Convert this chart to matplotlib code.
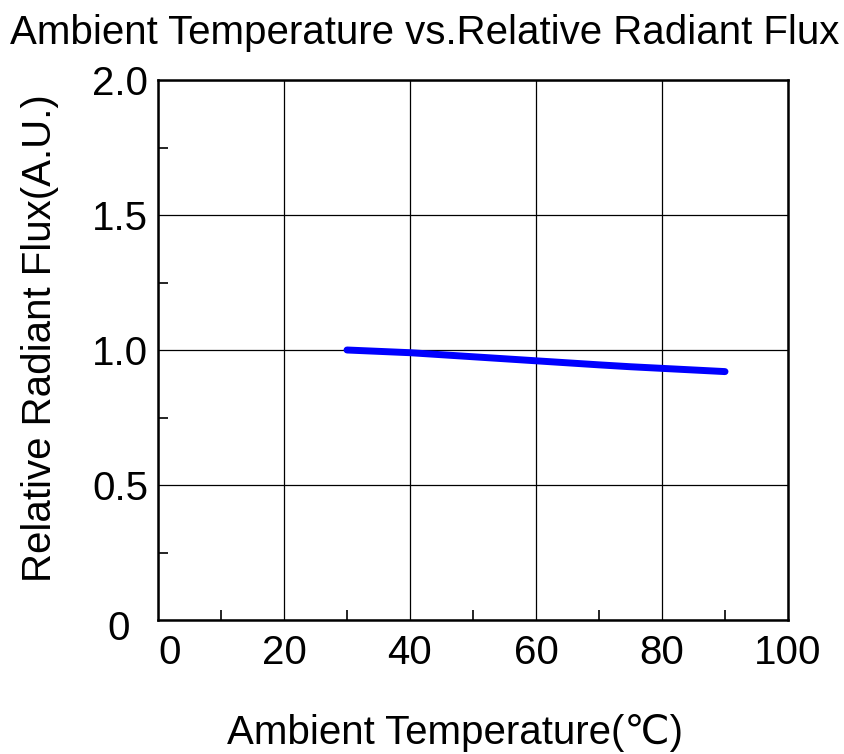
import numpy as np
import matplotlib.pyplot as plt
import matplotlib.transforms as mtransforms

#--------Data--------#
temp = [30, 40, 50, 60, 70, 75, 80, 90]
flux = [1.0, 0.99, 0.975, 0.96, 0.945, 0.938, 0.932, 0.92]
x_ticks = [0, 20, 40, 60, 80, 100]
x_labels = ['0', '20', '40', '60', '80', '100']
y_ticks = [0, 0.5, 1.0, 1.5, 2.0]
y_labels = ['0', '0.5', '1.0', '1.5', '2.0']
#--------------------#

plt.rcParams['font.family'] = ['Liberation Sans', 'DejaVu Sans']

fig = plt.figure(figsize=(8.45, 7.54), dpi=100)
ax = fig.add_axes([158 / 845, 1 - 620 / 754, 630 / 845, 540 / 754])

ax.plot(temp, flux, color='#0000ff', lw=5, solid_capstyle='round')

ax.set_xlim(0, 100)
ax.set_ylim(0, 2.0)
ax.set_xticks(x_ticks)
ax.set_xticklabels(x_labels, fontsize=29)
ax.set_yticks(y_ticks)
ax.set_yticklabels(y_labels, fontsize=29)
ax.set_xticks([10, 30, 50, 70, 90], minor=True)
ax.set_yticks([0.25, 0.75, 1.25, 1.75], minor=True)
ax.tick_params(which='major', length=0)
ax.tick_params(axis='x', which='major', pad=10)
ax.tick_params(axis='y', which='major', pad=7)
ax.tick_params(which='minor', direction='in', length=7, width=1.2)
ax.grid(True, which='major', color='black', lw=0.9)

for s in ax.spines.values():
    s.set_linewidth(1.8)

# shift the "0" labels like in the original
xl0 = ax.get_xticklabels()[0]
xl0.set_transform(xl0.get_transform() + mtransforms.ScaledTranslation(12 / 100, 0, fig.dpi_scale_trans))
yl0 = ax.get_yticklabels()[0]
yl0.set_transform(yl0.get_transform() + mtransforms.ScaledTranslation(-18 / 100, -5 / 100, fig.dpi_scale_trans))

fig.text(425 / 845, 1 - 33 / 754, 'Ambient Temperature vs.Relative Radiant Flux', fontsize=29,
         ha='center', va='center')
fig.text(455 / 845, 1 - 733 / 754, 'Ambient Temperature(\u2103)', fontsize=29,
         ha='center', va='center', family=['Liberation Sans', 'DejaVu Sans'])
fig.text(40 / 845, 1 - 338 / 754, 'Relative Radiant Flux(A.U.)', fontsize=29,
         ha='center', va='center', rotation=90)

fig.savefig('out.png', dpi=100)
